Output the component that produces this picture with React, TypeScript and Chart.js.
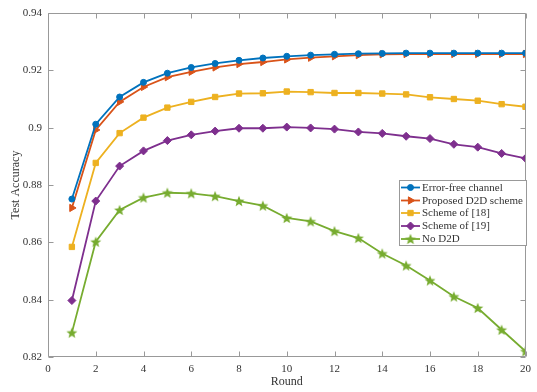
import React, { useEffect, useRef } from 'react';
import { Chart, registerables } from 'chart.js';
import { drawPoint } from 'chart.js/helpers';

Chart.register(...registerables);

const rounds = [1, 2, 3, 4, 5, 6, 7, 8, 9, 10, 11, 12, 13, 14, 15, 16, 17, 18, 19, 20];
const errorFree = [0.8751, 0.9012, 0.9107, 0.9158, 0.9190, 0.9210, 0.9224, 0.9235, 0.9243, 0.9249, 0.9253, 0.9256, 0.9258, 0.9259, 0.9260, 0.9260, 0.9260, 0.9260, 0.9260, 0.9260];
const proposed = [0.8720, 0.8992, 0.9090, 0.9142, 0.9176, 0.9195, 0.9210, 0.9222, 0.9229, 0.9238, 0.9244, 0.9249, 0.9253, 0.9256, 0.9257, 0.9257, 0.9257, 0.9257, 0.9257, 0.9257];
const scheme18 = [0.8584, 0.8877, 0.8981, 0.9035, 0.9070, 0.9090, 0.9107, 0.9119, 0.9120, 0.9126, 0.9124, 0.9121, 0.9121, 0.9119, 0.9116, 0.9106, 0.9100, 0.9094, 0.9082, 0.9073];
const scheme19 = [0.8397, 0.8744, 0.8866, 0.8919, 0.8955, 0.8975, 0.8988, 0.8998, 0.8998, 0.9002, 0.8999, 0.8995, 0.8985, 0.8980, 0.8970, 0.8962, 0.8942, 0.8932, 0.8910, 0.8893];
const noD2D = [0.8285, 0.8602, 0.8713, 0.8756, 0.8773, 0.8771, 0.8761, 0.8744, 0.8728, 0.8685, 0.8673, 0.8639, 0.8615, 0.8561, 0.8519, 0.8467, 0.8411, 0.8371, 0.8295, 0.8220];

const seriesNames = ['Error-free channel', 'Proposed D2D scheme', 'Scheme of [18]', 'Scheme of [19]', 'No D2D'];
const seriesColors = ['#0072BD', '#D95319', '#EDB120', '#7E2F8E', '#77AC30'];

const xTicks = [0, 2, 4, 6, 8, 10, 12, 14, 16, 18, 20];
const yTicks = [0.82, 0.84, 0.86, 0.88, 0.9, 0.92, 0.94];

const FONT = '"Liberation Serif", "Times New Roman", serif';
const TEXT = '#333333';
const AXIS = '#999999';

function makeStar(color: string): HTMLCanvasElement {
  const c = document.createElement('canvas');
  const s = 14;
  c.width = s;
  c.height = s;
  const g = c.getContext('2d')!;
  const cx = s / 2, cy = s / 2 + 0.5, ro = 5.8, ri = 2.5;
  g.beginPath();
  for (let i = 0; i < 10; i++) {
    const r = i % 2 === 0 ? ro : ri;
    const ang = -Math.PI / 2 + (i * Math.PI) / 5;
    const px = cx + r * Math.cos(ang);
    const py = cy + r * Math.sin(ang);
    if (i === 0) g.moveTo(px, py);
    else g.lineTo(px, py);
  }
  g.closePath();
  g.fillStyle = color;
  g.fill();
  return c;
}

export default function App() {
  const ref = useRef<HTMLCanvasElement | null>(null);

  useEffect(() => {
    document.body.style.margin = '0';
    const canvas = ref.current!;
    const star = makeStar(seriesColors[4]);
    const styles: any[] = [
      { pointStyle: 'circle', radius: 3, rotation: 0 },
      { pointStyle: 'triangle', radius: 4.2, rotation: 90 },
      { pointStyle: 'rect', radius: 3.8, rotation: 0 },
      { pointStyle: 'rectRot', radius: 4, rotation: 0 },
      { pointStyle: star, radius: 5, rotation: 0 },
    ];
    const values = [errorFree, proposed, scheme18, scheme19, noD2D];

    const datasets = values.map((vals, i) => ({
      label: seriesNames[i],
      data: rounds.map((r, k) => ({ x: r, y: vals[k] })),
      borderColor: seriesColors[i],
      backgroundColor: seriesColors[i],
      pointBackgroundColor: seriesColors[i],
      pointBorderColor: seriesColors[i],
      pointBorderWidth: 1,
      borderWidth: 1.8,
      pointStyle: styles[i].pointStyle,
      pointRadius: styles[i].radius,
      pointRotation: styles[i].rotation,
      tension: 0,
    }));

    const frame = {
      id: 'frame',
      afterDraw(chart: any) {
        const { ctx, chartArea: a, scales } = chart;
        const xs = scales.x, ys = scales.y;
        ctx.save();
        ctx.strokeStyle = AXIS;
        ctx.lineWidth = 1;
        const L = Math.round(a.left) + 0.5, R = Math.round(a.right) - 0.5;
        const T = Math.round(a.top) + 0.5, B = Math.round(a.bottom) - 0.5;
        ctx.beginPath();
        ctx.moveTo(L, T); ctx.lineTo(R, T); ctx.lineTo(R, B); ctx.lineTo(L, B); ctx.closePath();
        const tl = 5;
        xTicks.forEach((v) => {
          const px = Math.round(xs.getPixelForValue(v)) + 0.5;
          ctx.moveTo(px, B); ctx.lineTo(px, B - tl);
          ctx.moveTo(px, T); ctx.lineTo(px, T + tl);
        });
        yTicks.forEach((v) => {
          const py = Math.round(ys.getPixelForValue(v)) + 0.5;
          ctx.moveTo(L, py); ctx.lineTo(L + tl, py);
          ctx.moveTo(R, py); ctx.lineTo(R - tl, py);
        });
        ctx.stroke();

        // axis titles
        ctx.fillStyle = TEXT;
        ctx.font = `12px ${FONT}`;
        ctx.textAlign = 'center';
        ctx.textBaseline = 'middle';
        ctx.fillText('Round', (a.left + a.right) / 2, 381.5);
        ctx.save();
        ctx.translate(16, (a.top + a.bottom) / 2);
        ctx.rotate(-Math.PI / 2);
        ctx.fillText('Test Accuracy', 0, 0);
        ctx.restore();

        // legend
        const bx = 399.5, by = 180.5, bw = 127, bh = 65;
        ctx.fillStyle = '#ffffff';
        ctx.fillRect(bx, by, bw, bh);
        ctx.strokeStyle = AXIS;
        ctx.lineWidth = 1;
        ctx.strokeRect(bx, by, bw, bh);
        const rowY = [187.5, 200.5, 213, 226, 239];
        ctx.font = `11px ${FONT}`;
        ctx.textAlign = 'left';
        seriesNames.forEach((name, i) => {
          const yy = rowY[i];
          ctx.strokeStyle = seriesColors[i];
          ctx.lineWidth = 1.8;
          ctx.beginPath();
          ctx.moveTo(401, yy);
          ctx.lineTo(420, yy);
          ctx.stroke();
          ctx.fillStyle = seriesColors[i];
          ctx.strokeStyle = seriesColors[i];
          ctx.lineWidth = 1;
          drawPoint(ctx, { pointStyle: styles[i].pointStyle, radius: styles[i].radius, rotation: styles[i].rotation, borderWidth: 1 } as any, 410.5, yy);
          ctx.fillStyle = TEXT;
          ctx.fillText(name, 422, yy + 0.5);
        });
        ctx.restore();
      },
    };

    const chart = new Chart(canvas, {
      type: 'line',
      data: { datasets: datasets as any },
      options: {
        animation: false,
        responsive: false,
        maintainAspectRatio: false,
        layout: { padding: { top: 13, right: 6, left: 0, bottom: 0 } },
        plugins: { legend: { display: false }, tooltip: { enabled: false } },
        scales: {
          x: {
            type: 'linear',
            min: 0,
            max: 20,
            afterFit: (s: any) => { s.height = 35; },
            afterBuildTicks: (s: any) => { s.ticks = xTicks.map((v) => ({ value: v })); },
            grid: { display: false, drawTicks: false },
            border: { display: false },
            ticks: {
              padding: 6,
              color: TEXT,
              font: { family: FONT, size: 11 },
              maxRotation: 0,
              callback: (v: any) => String(v),
            },
          },
          y: {
            type: 'linear',
            min: 0.82,
            max: 0.94,
            afterFit: (s: any) => { s.width = 48; },
            afterBuildTicks: (s: any) => { s.ticks = yTicks.map((v) => ({ value: v })); },
            grid: { display: false, drawTicks: false },
            border: { display: false },
            ticks: {
              padding: 6,
              color: TEXT,
              font: { family: FONT, size: 11 },
              callback: (v: any) => String(Number(Number(v).toFixed(2))),
            },
          },
        },
      },
      plugins: [frame],
    });
    return () => chart.destroy();
  }, []);

  return (
    <div style={{ width: 537, height: 392 }}>
      <canvas ref={ref} width={537} height={392} style={{ display: 'block', width: 537, height: 392 }} />
    </div>
  );
}
